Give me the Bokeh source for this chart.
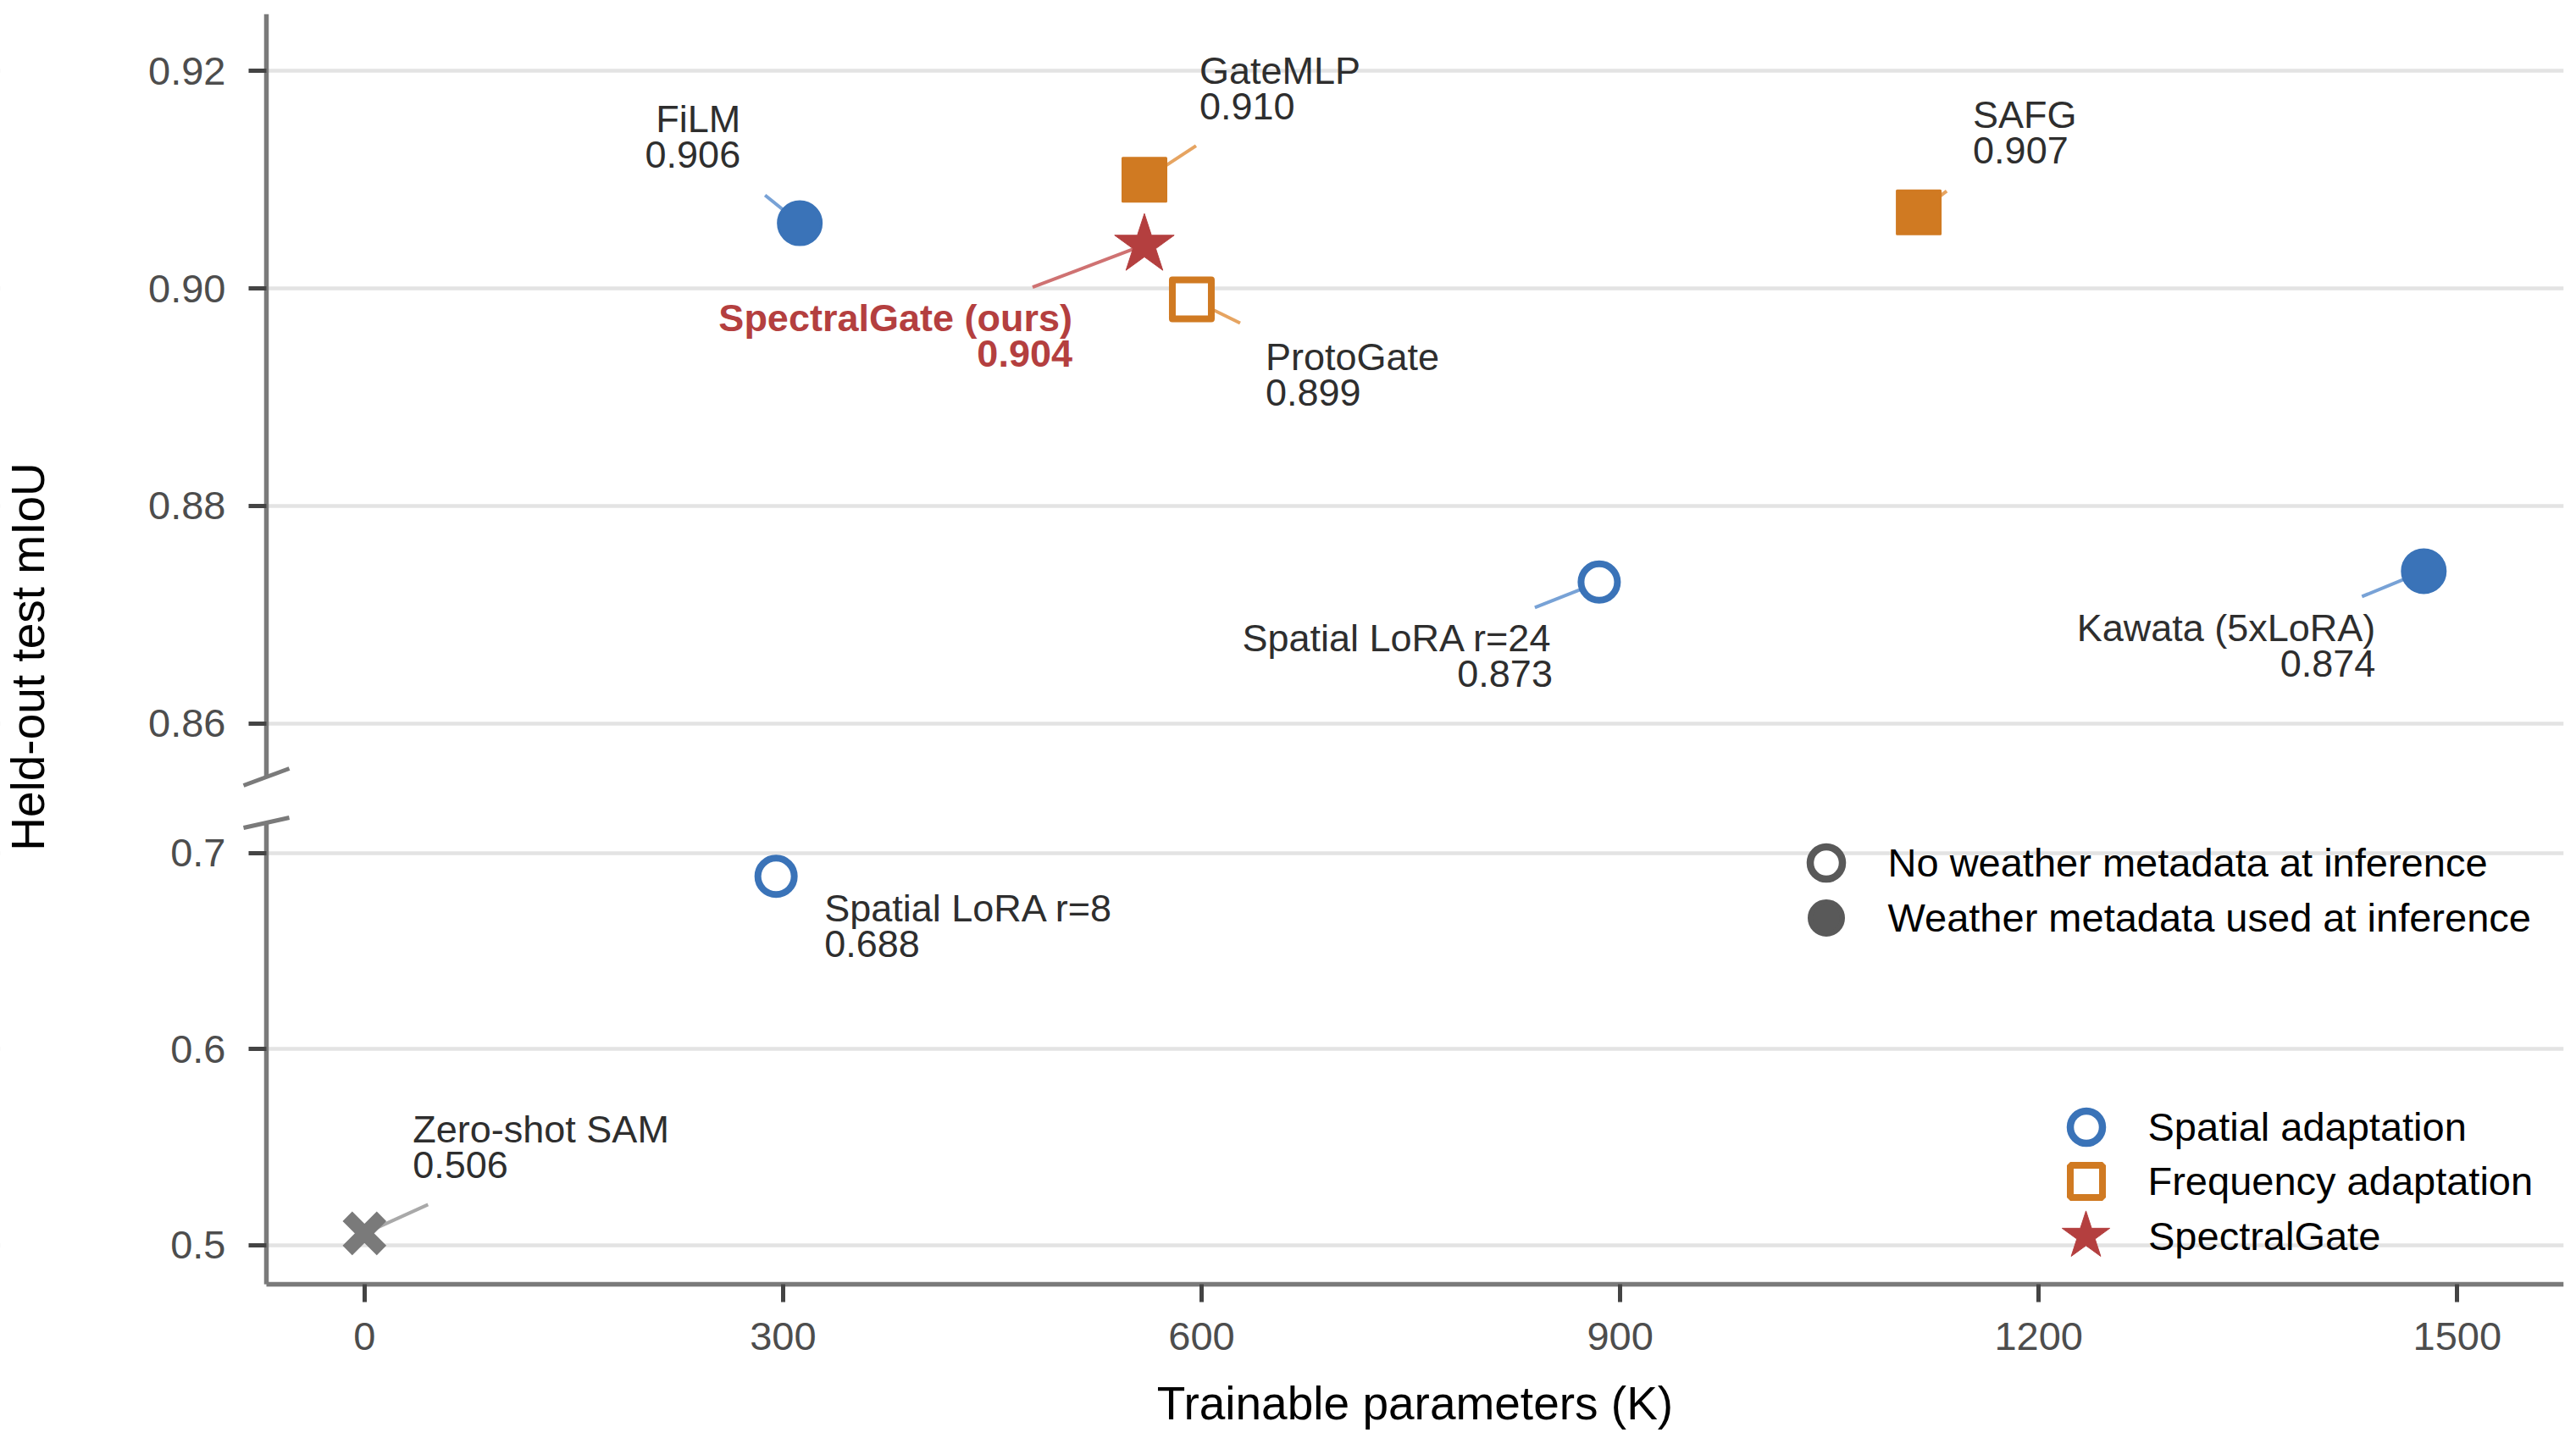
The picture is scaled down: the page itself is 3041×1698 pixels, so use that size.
import math
from bokeh.plotting import figure
from bokeh.models import (ColumnDataSource, FixedTicker, NumeralTickFormatter, Legend,
                          LegendItem, Label, Arrow, Range1d, LinearAxis, Grid, BoxAnnotation)
from bokeh.embed import file_html
from bokeh.resources import INLINE
from bokeh.core.properties import value, field

# ---------------- data ----------------
methods = ["Zero-shot SAM", "Spatial LoRA r=8", "FiLM", "GateMLP", "SpectralGate (ours)",
           "ProtoGate", "Spatial LoRA r=24", "SAFG", "Kawata (5xLoRA)"]
params_k = [0, 295, 312, 559, 559, 593, 885, 1114, 1476]
miou = [0.506, 0.688, 0.906, 0.910, 0.904, 0.899, 0.873, 0.907, 0.874]
value_labels = ["0.506", "0.688", "0.906", "0.910", "0.904", "0.899", "0.873", "0.907", "0.874"]
family = ["baseline", "spatial", "spatial", "frequency", "spectralgate",
          "frequency", "spatial", "frequency", "spatial"]
weather_at_inference = [False, False, True, True, False, False, False, True, True]

x_ticks = [0, 300, 600, 900, 1200, 1500]
upper_ticks = [0.86, 0.88, 0.90, 0.92]
lower_ticks = [0.5, 0.6, 0.7]

x_title = "Trainable parameters (K)"
y_title = "Held-out test mIoU"
weather_legend = ["No weather metadata at inference", "Weather metadata used at inference"]
family_legend = ["Spatial adaptation", "Frequency adaptation", "SpectralGate"]

# ---------------- label layout (screen pixels) ----------------
label_side = ["left", "left", "right", "left", "right", "left", "right", "left", "right"]
label_dx = [57, 57, -70, 65, -85, 87, -55, 64, -57]
label_dy = [-81, 80, -81, -87, 128, 110, 108, -73, 109]
leader_dx = [75, 23, -41, 61, -132, 57, -76, 33, -73]
leader_dy = [-34, 5, -33, -40, 50, 28, 30, -25, 30]
LINE_GAP = 42

# ---------------- styles ----------------
FONT = "Liberation Sans"
C_BLUE, C_BLUE_L = "#3a73b8", "#78a2d6"
C_ORANGE, C_ORANGE_L = "#d07a22", "#e6a461"
C_RED, C_RED_L = "#b43f3f", "#cf7272"
C_GREY, C_GREY_L = "#7a7a7a", "#a9a9a9"
C_LEG = "#595959"
TEXT_C = "#2e2e2e"

MARKERS = {
    ("spatial", True): ("circle", 51, 3, C_BLUE, C_BLUE),
    ("spatial", False): ("circle", 43, 8, "white", C_BLUE),
    ("frequency", True): ("square", 51, 3, C_ORANGE, C_ORANGE),
    ("frequency", False): ("square", 46, 8, "white", C_ORANGE),
    ("spectralgate", True): ("star", 74, 1, C_RED, C_RED),
    ("spectralgate", False): ("star", 74, 1, C_RED, C_RED),
    ("baseline", True): ("x", 57, 16, C_GREY, C_GREY),
    ("baseline", False): ("x", 57, 16, C_GREY, C_GREY),
}
LEADER = {"spatial": C_BLUE_L, "frequency": C_ORANGE_L, "spectralgate": C_RED_L, "baseline": C_GREY_L}

# ---------------- geometry (canvas pixels) ----------------
MAIN_W, MAIN_H = 3036, 1693
MB_LEFT, MB_RIGHT, MB_TOP, MB_BOTTOM = 0, 10, 16, 5
FRAME_W = MAIN_W - MB_LEFT - MB_RIGHT
FRAME_H = MAIN_H - MB_TOP - MB_BOTTOM
AXIS_PX = 314                       # y-axis line, px from frame left
UPPER_PX = (0, 901)                 # upper panel top / bottom, px from frame top
LOWER_PX = (954, 1500)              # lower panel top / bottom (x-axis line), px from frame top
Y_TITLE_CY = 775                    # canvas px
X_TITLE_CY = 1656                   # canvas px

X_AXIS_LO, X_HI = -70.3, 1576.3
px_per_x = (FRAME_W - AXIS_PX) / (X_HI - X_AXIS_LO)
X_LO = X_AXIS_LO - AXIS_PX / px_per_x

UPPER_PANEL = (0.85507, 0.92524)
LOWER_PANEL = (0.48004, 0.71577)

px_up = (UPPER_PX[1] - UPPER_PX[0]) / (UPPER_PANEL[1] - UPPER_PANEL[0])
UPPER_FULL = (UPPER_PANEL[1] - (FRAME_H - UPPER_PX[0]) / px_up, UPPER_PANEL[1] + UPPER_PX[0] / px_up)
px_lo = (LOWER_PX[1] - LOWER_PX[0]) / (LOWER_PANEL[1] - LOWER_PANEL[0])
LOWER_FULL = (LOWER_PANEL[0] - (FRAME_H - LOWER_PX[1]) / px_lo, LOWER_PANEL[0] + LOWER_PX[1] / px_lo)

p = figure(width=MAIN_W, height=MAIN_H, x_range=Range1d(X_LO, X_HI),
           y_range=Range1d(*LOWER_FULL), extra_y_ranges={"upper": Range1d(*UPPER_FULL)},
           output_backend="svg", toolbar_location=None,
           min_border_left=MB_LEFT, min_border_right=MB_RIGHT,
           min_border_top=MB_TOP, min_border_bottom=MB_BOTTOM)
p.outline_line_color = None
p.background_fill_color = "white"
p.border_fill_color = "white"
p.xgrid.visible = False


def style_axis(ax, standoff):
    ax.axis_line_color = C_GREY
    ax.axis_line_width = 5.5
    ax.major_tick_line_color = "#444444"
    ax.major_tick_line_width = 5
    ax.major_tick_out = 21
    ax.major_tick_in = 0
    ax.minor_tick_line_color = None
    ax.major_label_text_font = FONT
    ax.major_label_text_font_size = "47px"
    ax.major_label_text_color = "#4d4d4d"
    ax.major_label_standoff = standoff


# lower panel y axis (default range)
lo_ticker = FixedTicker(ticks=lower_ticks)
ax_lo = p.yaxis[0]
ax_lo.ticker = lo_ticker
ax_lo.formatter = NumeralTickFormatter(format="0.0")
ax_lo.bounds = LOWER_PANEL
ax_lo.fixed_location = X_AXIS_LO
style_axis(ax_lo, 27)
p.ygrid.ticker = lo_ticker

# upper panel y axis
up_ticker = FixedTicker(ticks=upper_ticks)
ax_up = LinearAxis(y_range_name="upper", ticker=up_ticker,
                   formatter=NumeralTickFormatter(format="0.00"),
                   bounds=UPPER_PANEL, fixed_location=X_AXIS_LO)
style_axis(ax_up, 27)
p.add_layout(ax_up, "left")
p.add_layout(Grid(dimension=1, ticker=up_ticker, y_range_name="upper"))

for g in p.ygrid:
    g.grid_line_color = "#e3e3e3"
    g.grid_line_width = 4.5

# hide grid stubs left of the y axis
p.add_layout(BoxAnnotation(right=X_AXIS_LO, fill_color="white", fill_alpha=1,
                           line_color=None, level="underlay"))

# x axis along the bottom of the lower panel
ax_x = p.xaxis[0]
ax_x.ticker = FixedTicker(ticks=x_ticks)
ax_x.bounds = (X_AXIS_LO, X_HI)
ax_x.fixed_location = LOWER_PANEL[0]
style_axis(ax_x, 24)

# axis titles
p.add_layout(Label(x=(X_AXIS_LO + X_HI) / 2, y=LOWER_FULL[1] - (X_TITLE_CY - MB_TOP) / px_lo,
                   text=x_title, text_align="center", text_baseline="middle",
                   text_font=FONT, text_font_size="55px", text_color="black"))
p.add_layout(Label(x=X_LO + 32 / px_per_x, y=LOWER_FULL[1] - (Y_TITLE_CY - MB_TOP) / px_lo,
                   text=y_title, angle=math.pi / 2, text_align="center", text_baseline="middle",
                   text_font=FONT, text_font_size="55px", text_color="black"))


def build(panel, px_per_y, range_name):
    idx = [i for i, v in enumerate(miou) if panel[0] <= v <= panel[1]]
    d = {k: [] for k in ["x", "y", "x1", "y1", "lc", "marker", "size", "lw", "fill", "line",
                         "name", "val", "align", "dx", "dy", "dyn", "tc", "ts"]}
    for i in idx:
        fam, w = family[i], weather_at_inference[i]
        mk, sz, lw, fc, lc = MARKERS[(fam, w)]
        d["x"].append(params_k[i]); d["y"].append(miou[i])
        d["x1"].append(params_k[i] + leader_dx[i] / px_per_x)
        d["y1"].append(miou[i] - leader_dy[i] / px_per_y)
        d["lc"].append(LEADER[fam])
        d["marker"].append(mk); d["size"].append(sz); d["lw"].append(lw)
        d["fill"].append(fc); d["line"].append(lc)
        d["name"].append(methods[i]); d["val"].append(value_labels[i])
        d["align"].append(label_side[i])
        d["dx"].append(label_dx[i]); d["dy"].append(label_dy[i]); d["dyn"].append(label_dy[i] - LINE_GAP)
        d["tc"].append(C_RED if fam == "spectralgate" else TEXT_C)
        d["ts"].append("bold" if fam == "spectralgate" else "normal")
    src = ColumnDataSource(d)
    kw = {} if range_name is None else {"y_range_name": range_name}
    p.segment(x0="x", y0="y", x1="x1", y1="y1", source=src, line_color="lc", line_width=4, **kw)
    p.scatter(x="x", y="y", source=src, marker="marker", size="size", line_width="lw",
              fill_color="fill", line_color="line", line_join="round", **kw)
    for col, off in (("name", "dyn"), ("val", "dy")):
        p.text(x="x", y="y", text=col, source=src, x_offset="dx", y_offset=off,
               text_align=field("align"), text_baseline="alphabetic",
               text_font=value(FONT), text_font_size="45px",
               text_color="tc", text_font_style=field("ts"), **kw)


build(UPPER_PANEL, px_up, "upper")
build(LOWER_PANEL, px_lo, None)

# axis break marks
p.add_layout(Arrow(end=None, x_start=X_AXIS_LO - 27 / px_per_x, y_start=UPPER_PANEL[0] - 10 / px_up,
                   x_end=X_AXIS_LO + 27 / px_per_x, y_end=UPPER_PANEL[0] + 10 / px_up,
                   line_color=C_GREY, line_width=5, y_range_name="upper"))
p.add_layout(Arrow(end=None, x_start=X_AXIS_LO - 27 / px_per_x, y_start=LOWER_PANEL[1] - 7 / px_lo,
                   x_end=X_AXIS_LO + 27 / px_per_x, y_end=LOWER_PANEL[1] + 5 / px_lo,
                   line_color=C_GREY, line_width=5))

# legends: one item each (dummy renderers carry legend glyph styles; NaN keeps them off the plot)
nan = [float("nan")]
r_now = p.scatter(x=nan, y=nan, marker="circle", size=10, fill_color="white", line_color=C_LEG, line_width=8.5)
r_w = p.scatter(x=nan, y=nan, marker="circle", size=10, fill_color=C_LEG, line_color=C_LEG, line_width=6)
r_sp = p.scatter(x=nan, y=nan, marker="circle", size=10, fill_color="white", line_color=C_BLUE, line_width=8.5)
r_fr = p.scatter(x=nan, y=nan, marker="square", size=10, fill_color="white", line_color=C_ORANGE, line_width=8)
r_sg = p.scatter(x=nan, y=nan, marker="star", size=10, fill_color=C_RED, line_color=C_RED, line_width=1)

LEG_ROWS = [  # (label, renderer, marker centre x, centre y, text start x, glyph box) in canvas px
    (weather_legend[0], r_now, 2155, 1018, 2229, 95),
    (weather_legend[1], r_w, 2155, 1083, 2229, 95),
    (family_legend[0], r_sp, 2462, 1330, 2535, 95),
    (family_legend[1], r_fr, 2462, 1394.5, 2535, 95),
    (family_legend[2], r_sg, 2462, 1459, 2535, 148),
]
for lab, r, cx, cy, tx, gbox in LEG_ROWS:
    vx = cx - gbox / 2 - MB_LEFT
    vy = (MB_TOP + FRAME_H) - (cy + gbox / 2)
    lg = Legend(items=[LegendItem(label=lab, renderers=[r])], location=(vx, vy),
                glyph_width=gbox, glyph_height=gbox, spacing=0, padding=0, margin=0,
                label_standoff=max(0, int(round(tx - (cx + gbox / 2)))),
                border_line_color=None, background_fill_alpha=0,
                label_text_font=FONT, label_text_font_size="47px", label_text_color="black")
    p.add_layout(lg)

open("out.html", "w").write(file_html(p, INLINE))
